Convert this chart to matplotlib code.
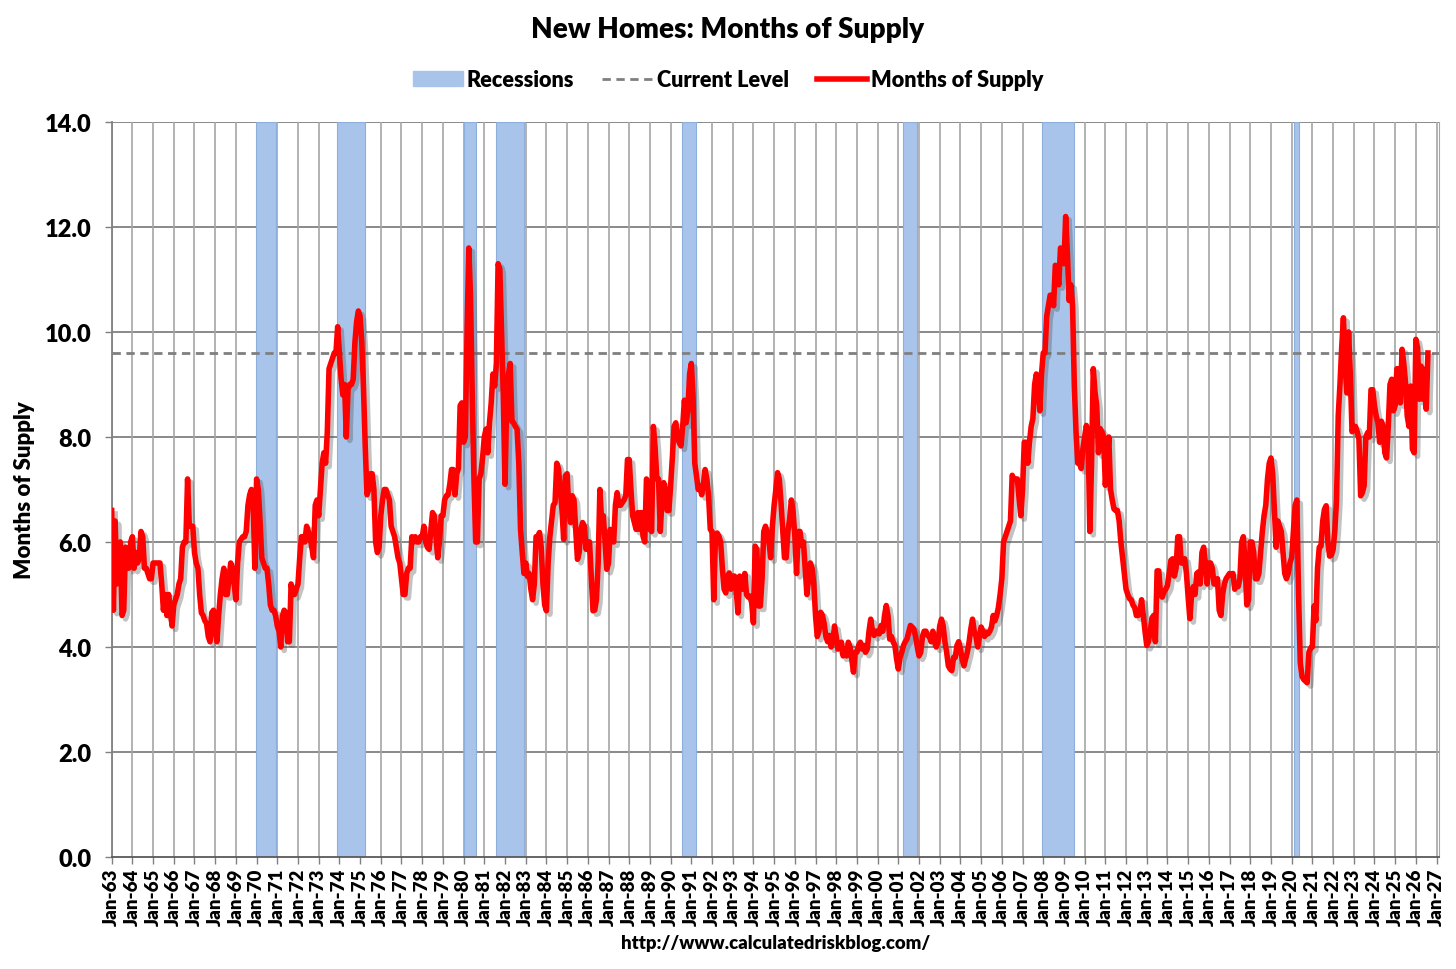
import matplotlib
matplotlib.use("Agg")
import matplotlib.pyplot as plt
import matplotlib.patheffects as pe
from matplotlib.patches import Patch
from matplotlib.lines import Line2D
import numpy as np

# ---------------- data ----------------
start_year = 1963
supply_1960s = [
    6.6, 4.7, 6.4, 5.2, 5.8, 6.0, 4.6, 4.7, 5.9, 5.6, 5.5, 6.0,
    6.1, 5.5, 5.8, 5.6, 5.7, 6.2, 6.1, 5.5, 5.5, 5.4, 5.3, 5.3,
    5.6, 5.6, 5.6, 5.6, 5.6, 5.2, 4.7, 5.0, 4.6, 5.0, 4.7, 4.4,
    4.8, 4.9, 5.0, 5.2, 5.3, 5.9, 6.0, 6.0, 7.2, 6.3, 6.3, 6.3,
    5.8, 5.6, 5.5, 5.0, 4.65, 4.6, 4.5, 4.45, 4.2, 4.1, 4.65, 4.7,
    4.3, 4.1, 4.6, 5.0, 5.3, 5.5, 5.0, 5.0, 5.3, 5.6, 5.5, 5.2,
    4.9, 5.6, 6.0, 6.05, 6.1, 6.1, 6.2, 6.7, 6.9, 7.0, 6.75, 5.5,
]
supply_1970s = [
    7.2, 7.0, 6.4, 5.7, 5.6, 5.5, 5.5, 5.2, 4.8, 4.7, 4.7, 4.6,
    4.4, 4.3, 4.0, 4.6, 4.7, 4.65, 4.1, 4.1, 5.2, 5.0, 5.0, 5.1,
    5.2, 5.7, 6.1, 6.1, 6.0, 6.3, 6.2, 6.1, 5.9, 5.7, 6.7, 6.8,
    6.5, 7.0, 7.5, 7.7, 7.5, 8.1, 9.3, 9.4, 9.5, 9.6, 9.6, 10.1,
    9.6, 9.1, 8.8, 9.0, 8.0, 8.9, 9.0, 9.0, 9.1, 9.8, 10.2, 10.4,
    10.3, 9.8, 8.9, 7.8, 6.9, 7.0, 7.3, 7.3, 7.0, 6.0, 5.8, 5.9,
    6.5, 6.8, 7.0, 7.0, 6.9, 6.8, 6.3, 6.2, 6.1, 5.9, 5.7, 5.6,
    5.3, 5.0, 5.0, 5.4, 5.5, 5.5, 6.1, 6.0, 6.1, 6.0, 6.0, 6.1,
    6.1, 6.3, 6.0, 5.9, 5.86, 6.2, 6.56, 6.5, 6.1, 5.7, 6.0, 6.5,
    6.5, 6.8, 6.88, 6.9, 7.1, 7.38, 7.38, 6.9, 7.3, 7.4, 8.6, 8.65,
]
supply_1980s = [
    7.9, 8.0, 10.0, 11.6, 10.7, 8.8, 7.2, 6.0, 6.0, 7.2, 7.3, 7.6,
    8.0, 8.15, 7.7, 8.27, 8.65, 9.2, 8.97, 9.4, 11.3, 11.2, 10.0, 8.8,
    7.1, 8.65, 9.2, 9.4, 8.3, 8.27, 8.2, 8.15, 7.5, 6.24, 5.8, 5.4,
    5.6, 5.35, 5.4, 5.1, 4.9, 5.2, 6.1, 6.1, 6.18, 5.9, 5.2, 4.8,
    4.69, 5.6, 6.1, 6.4, 6.7, 6.75, 7.5, 7.4, 7.0, 6.62, 6.05, 7.26,
    7.3, 6.6, 6.37, 6.88, 6.8, 6.24, 5.67, 5.8, 6.24, 6.37, 6.3, 5.86,
    6.0, 6.0, 5.35, 4.69, 4.7, 4.9, 5.6, 7.0, 6.4, 6.5, 6.0, 5.48,
    5.6, 6.24, 6.1, 6.0, 6.7, 6.94, 6.7, 6.7, 6.75, 6.8, 6.88, 7.57,
    7.57, 7.0, 6.5, 6.37, 6.24, 6.56, 6.24, 6.56, 6.11, 6.0, 7.2, 7.13,
    6.24, 6.2, 8.2, 7.8, 7.2, 7.2, 6.2, 6.8, 7.13, 7.0, 6.6, 6.6,
]
supply_1990s = [
    7.07, 7.6, 8.2, 8.27, 8.0, 7.89, 7.83, 8.2, 8.7, 8.27, 8.5, 9.2,
    9.4, 8.78, 7.5, 7.26, 7.0, 7.07, 6.9, 7.1, 7.38, 7.2, 6.88, 6.24,
    6.2, 4.9, 6.11, 6.17, 6.11, 6.0, 5.5, 5.1, 5.03, 5.35, 5.41, 5.1,
    5.35, 5.35, 5.1, 4.65, 5.35, 5.22, 5.1, 5.4, 5.0, 4.95, 4.97, 4.84,
    4.46, 5.92, 5.86, 4.78, 4.78, 5.29, 6.2, 6.3, 6.17, 6.0, 5.7, 6.3,
    6.7, 7.0, 7.32, 7.2, 6.75, 6.24, 5.7, 5.7, 6.2, 6.44, 6.8, 6.57,
    6.12, 5.4, 6.2, 6.2, 5.93, 6.0, 5.5, 5.0, 5.3, 5.6, 5.5, 5.2,
    4.6, 4.2, 4.3, 4.66, 4.6, 4.45, 4.2, 4.1, 4.22, 4.0, 4.1, 4.4,
    4.2, 3.96, 4.03, 4.09, 3.83, 3.96, 3.83, 4.09, 4.0, 3.77, 3.52, 3.9,
    3.9, 4.03, 4.09, 3.96, 4.03, 3.9, 3.96, 4.3, 4.53, 4.3, 4.22, 4.3,
]
supply_2000s = [
    4.3, 4.25, 4.41, 4.3, 4.6, 4.79, 4.6, 4.15, 4.2, 4.1, 4.03, 3.77,
    3.58, 3.8, 3.9, 4.03, 4.1, 4.15, 4.28, 4.41, 4.38, 4.34, 4.2, 4.0,
    3.83, 3.9, 4.2, 4.3, 4.3, 4.22, 4.2, 4.1, 4.3, 4.1, 4.0, 4.1,
    4.4, 4.53, 4.4, 4.1, 3.9, 3.64, 3.58, 3.55, 3.8, 3.8, 4.03, 4.1,
    3.96, 3.77, 3.64, 3.77, 3.9, 4.09, 4.34, 4.53, 4.3, 4.2, 4.0, 4.2,
    4.38, 4.3, 4.2, 4.28, 4.25, 4.3, 4.38, 4.6, 4.5, 4.6, 4.75, 5.0,
    5.3, 6.0, 6.1, 6.2, 6.3, 6.4, 7.27, 7.2, 7.2, 7.2, 6.83, 6.5,
    7.0, 7.9, 7.9, 7.5, 7.9, 8.2, 8.35, 9.0, 9.2, 9.0, 8.5, 9.2,
    9.6, 9.6, 10.3, 10.5, 10.7, 10.7, 10.5, 11.27, 11.2, 10.9, 11.6, 11.5,
    11.3, 12.2, 11.5, 10.6, 10.9, 10.5, 9.0, 8.1, 7.5, 7.5, 7.4, 7.78,
]
supply_2010s = [
    8.0, 8.22, 8.0, 6.2, 7.5, 9.3, 8.86, 8.6, 7.7, 8.16, 8.1, 8.0,
    7.08, 7.5, 8.0, 7.0, 6.8, 6.63, 6.6, 6.6, 6.4, 6.0, 5.7, 5.4,
    5.1, 5.0, 4.92, 4.9, 4.8, 4.75, 4.6, 4.6, 4.65, 4.9, 4.6, 4.3,
    4.03, 4.1, 4.3, 4.55, 4.6, 4.1, 5.45, 5.45, 5.0, 4.95, 5.05, 5.1,
    5.17, 5.4, 5.65, 5.68, 5.35, 5.5, 6.1, 6.1, 5.6, 5.6, 5.68, 5.4,
    4.95, 4.54, 5.0, 5.15, 5.0, 5.4, 5.43, 5.2, 5.8, 5.9, 5.6, 5.2,
    5.6, 5.6, 5.5, 5.2, 5.2, 5.3, 4.7, 4.6, 5.0, 5.2, 5.3, 5.35,
    5.4, 5.37, 5.4, 5.1, 5.2, 5.15, 5.3, 6.0, 6.1, 5.6, 4.8, 4.9,
    6.0, 6.0, 5.8, 5.3, 5.3, 5.4, 5.8, 6.2, 6.5, 6.7, 7.2, 7.5,
    7.6, 7.3, 6.6, 5.9, 6.4, 6.3, 6.2, 5.8, 5.4, 5.3, 5.4, 5.6,
]
supply_2020s = [
    5.7, 6.18, 6.69, 6.8, 5.0, 3.7, 3.44, 3.38, 3.35, 3.32, 3.9, 3.98,
    4.0, 4.78, 4.5, 5.5, 5.9, 5.92, 6.4, 6.62, 6.69, 6.0, 5.73, 5.75,
    5.85, 6.2, 6.8, 8.4, 9.0, 9.7, 10.27, 9.35, 8.84, 10.0, 9.2, 8.1,
    8.2, 8.2, 8.1, 7.96, 6.88, 6.94, 7.07, 8.0, 8.08, 8.0, 8.9, 8.9,
    8.6, 8.4, 8.27, 7.9, 8.3, 8.2, 7.7, 7.6, 8.2, 9.0, 9.1, 8.5,
    8.6, 9.3, 9.3, 8.65, 9.67, 9.4, 9.03, 8.4, 8.2, 8.97, 7.77, 7.7,
    9.86, 9.7, 8.72, 9.35, 8.72, 9.29, 8.53, 9.6,
]
current_level = 9.6

# NBER recessions (peak month, trough month)
recession_starts = ["1969-12", "1973-11", "1980-01", "1981-07", "1990-07", "2001-03", "2007-12", "2020-02"]
recession_ends = ["1970-11", "1975-03", "1980-07", "1982-11", "1991-03", "2001-11", "2009-06", "2020-04"]

tick_years = list(range(1963, 2028))
tick_labels = ["Jan-%02d" % (y % 100) for y in tick_years]
y_ticks = [0, 2, 4, 6, 8, 10, 12, 14]
y_tick_labels = ["%.1f" % v for v in y_ticks]

# ---------------- figure ----------------
plt.rcParams['font.family'] = ['Lato', 'DejaVu Sans']
W = 'heavy'
plt.rcParams['font.weight'] = W

values = np.array(supply_1960s + supply_1970s + supply_1980s + supply_1990s +
                  supply_2000s + supply_2010s + supply_2020s)
x = start_year + np.arange(len(values)) / 12.0


def ym(s):
    y, m = s.split("-")
    return int(y) + (int(m) - 1) / 12.0


fig = plt.figure(figsize=(14.56, 9.70), dpi=100)
ax = fig.add_axes([0.0767, 0.1155, 0.9118, 0.7577])

xmin, xmax = 1963.0, 2027.13
ax.set_xlim(xmin, xmax)
ax.set_ylim(0, 14)

rec_color = '#a9c4eb'
for s, e in zip(recession_starts, recession_ends):
    ax.axvspan(ym(s) + 0.5 / 12, ym(e) + 1.0 / 12, facecolor=rec_color,
               edgecolor='#8eaedc', linewidth=0.8, zorder=1)

# grids
for yv in y_ticks[1:]:
    ax.axhline(yv, color='#808080', lw=1.3, zorder=0.5)
ax.set_xticks(tick_years)
ax.set_xticklabels(tick_labels, rotation=90, fontsize=13.5, fontweight=W)
ax.grid(axis='x', color='#a6a6a6', lw=1.2, zorder=0.4)
ax.set_axisbelow(True)

ax.axhline(current_level, color='#7f7f7f', lw=2.0, linestyle=(0, (3, 2)), zorder=2)

ax.plot(x, values, color='#ff0000', lw=4.0, solid_joinstyle='round', zorder=3,
        path_effects=[pe.SimpleLineShadow(offset=(2.5, -2.5), shadow_color='#555555', alpha=0.35),
                      pe.Normal()])

ax.set_yticks(y_ticks)
ax.set_yticklabels(y_tick_labels, fontsize=17, fontweight=W)
ax.tick_params(axis='both', direction='out', length=5, color='#808080', width=1.0)
ax.tick_params(axis='y', pad=9.5)
ax.tick_params(axis='x', pad=3)

ax.spines['top'].set_visible(False)
ax.spines['right'].set_color('#a6a6a6')
ax.spines['left'].set_color('#808080')
ax.spines['bottom'].set_color('#595959')
ax.spines['left'].set_linewidth(1.3)
ax.spines['bottom'].set_linewidth(1.3)

ax.set_ylabel("Months of Supply", fontsize=16, fontweight=W, labelpad=7)

fig.text(0.5, 0.969, "New Homes: Months of Supply", ha='center', va='center',
         fontsize=20.1, fontweight=W)

handles = [Patch(facecolor=rec_color, edgecolor=rec_color),
           Line2D([], [], color='#7f7f7f', lw=2.0, linestyle=(0, (3, 2))),
           Line2D([], [], color='#ff0000', lw=4)]
fig.legend(handles, ["Recessions", "Current Level", "Months of Supply"],
           loc='center', bbox_to_anchor=(0.5, 0.9165), ncol=3, frameon=False,
           handlelength=2.3, handletextpad=0.2, columnspacing=1.3,
           prop={'weight': W, 'size': 15.6})

fig.text(0.5327, 0.027, "http://www.calculatedriskblog.com/", ha='center', va='center',
         fontsize=13.3, fontweight=W)

fig.savefig("out.png", dpi=100)
